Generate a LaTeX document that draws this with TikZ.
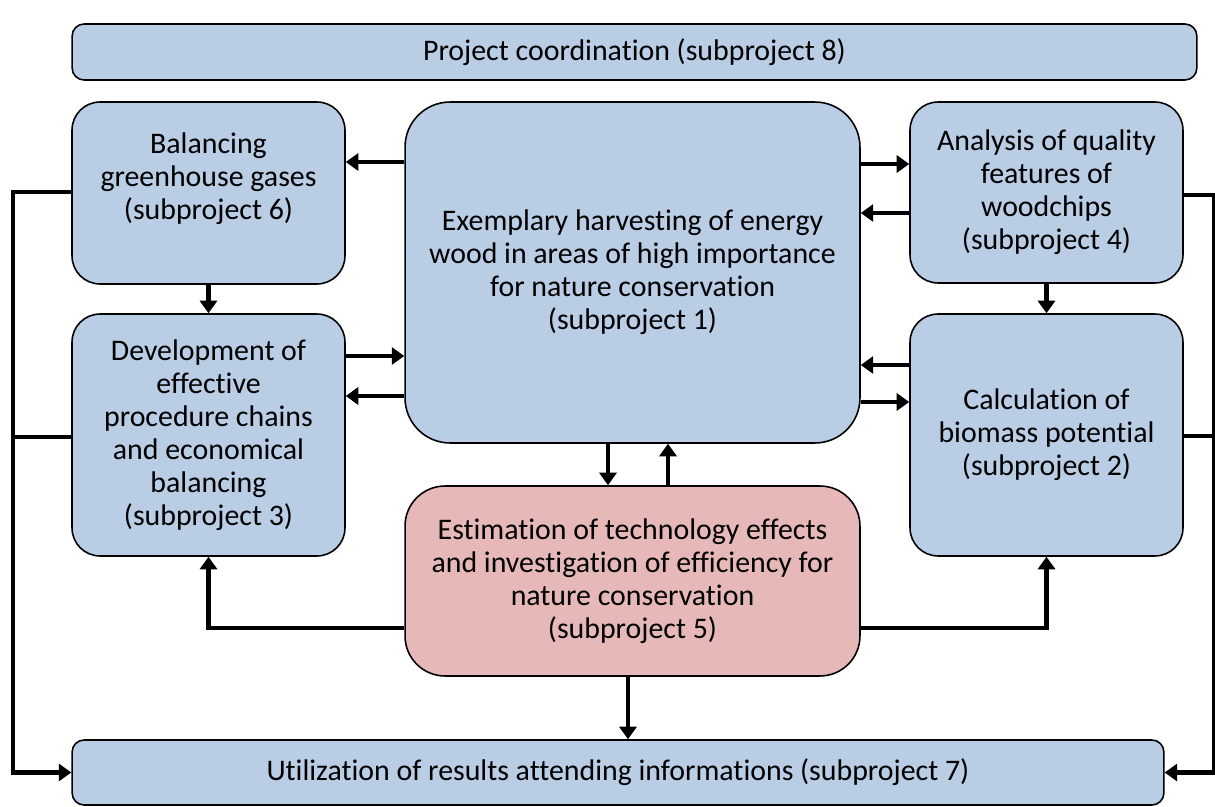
\documentclass[tikz,border=0pt]{standalone}
\usepackage{fontspec}
\setmainfont{Carlito}[Ligatures=NoCommon]
\usetikzlibrary{arrows.meta}
\definecolor{boxblue}{HTML}{B9CDE5}
\definecolor{boxpink}{HTML}{E6B9B8}
\tikzset{
  box/.style={draw=black, line width=0.9pt, fill=boxblue, rounded corners=#1, align=center, inner sep=0pt,
    font=\fontsize{17}{18.8}\selectfont},
  box/.default=0.56cm,
  hotbox/.style={box=#1, fill=boxpink},
  arr/.style={line width=2.8pt, -{Triangle[length=0.25cm,width=0.34cm]}},
  wire/.style={line width=2.8pt},
}

\begin{document}
\begin{tikzpicture}[x=0.02cm,y=-0.02cm]
	\useasboundingbox (0,0) rectangle (1215,807);
	
	% boxes
	\node[box=0.24cm, minimum width=22.5cm, minimum height=1.12cm] (coord) at (634.5,52) {Project coordination (subproject 8)};
	\node[box, minimum width=5.46cm, minimum height=3.64cm] (bal) at (208.5,193) {Balancing\\greenhouse gases\\(subproject 6)\\~};
	\node[box, minimum width=5.46cm, minimum height=4.84cm] (dev) at (208.5,435) {Development of\\effective\\procedure chains\\and economical\\balancing\\(subproject 3)};
	\node[box=0.9cm, minimum width=9.1cm, minimum height=6.82cm] (cen) at (632.5,272.5) {Exemplary harvesting of energy\\wood in areas of high importance\\for nature conservation\\(subproject 1)};
	\node[box, minimum width=5.46cm, minimum height=3.62cm] (ana) at (1046.5,192.5) {Analysis of quality\\features of\\woodchips\\(subproject 4)};
	\node[box, minimum width=5.46cm, minimum height=4.84cm] (calc) at (1046.5,435) {Calculation of\\biomass potential\\(subproject 2)};
	\node[hotbox=0.8cm, minimum width=9.1cm, minimum height=3.8cm] (est) at (632.5,581) {Estimation of technology effects\\and investigation of efficiency for\\nature conservation\\(subproject 5)};
	\node[box=0.24cm, minimum width=21.84cm, minimum height=1.3cm] (util) at (618,772.5) {Utilization of results attending informations (subproject 7)};
	
	% arrows between the boxes
	\draw[arr] (cen.west |- 0,162) -- (bal.east |- 0,162);
	\draw[arr] (cen.east |- 0,164) -- (ana.west |- 0,164);
	\draw[arr] (ana.west |- 0,213) -- (cen.east |- 0,213);
	\draw[arr] (dev.east |- 0,356) -- (cen.west |- 0,356);
	\draw[arr] (cen.west |- 0,396) -- (dev.east |- 0,396);
	\draw[arr] (calc.west |- 0,365) -- (cen.east |- 0,365);
	\draw[arr] (cen.east |- 0,402) -- (calc.west |- 0,402);
	\draw[arr] (bal) -- (dev);
	\draw[arr] (ana) -- (calc);
	\draw[arr] (cen.south -| 608,0) -- (est.north -| 608,0);
	\draw[arr] (est.north -| 668,0) -- (cen.south -| 668,0);
	\draw[arr] (est.west |- 0,628) -| (dev.south);
	\draw[arr] (est.east |- 0,628) -| (calc.south);
	\draw[arr] (est.south -| 628,0) -- (util.north -| 628,0);
	
	% loops to the results
	\draw[arr] (bal.west |- 0,192) -- (13,192) |- (util.west);
	\draw[wire] (dev.west |- 0,437) -- (13,437);
	\draw[arr] (ana.east |- 0,195) -- (1214,195) |- (util.east);
	\draw[wire] (calc.east |- 0,436) -- (1214,436);
\end{tikzpicture}
\end{document}
